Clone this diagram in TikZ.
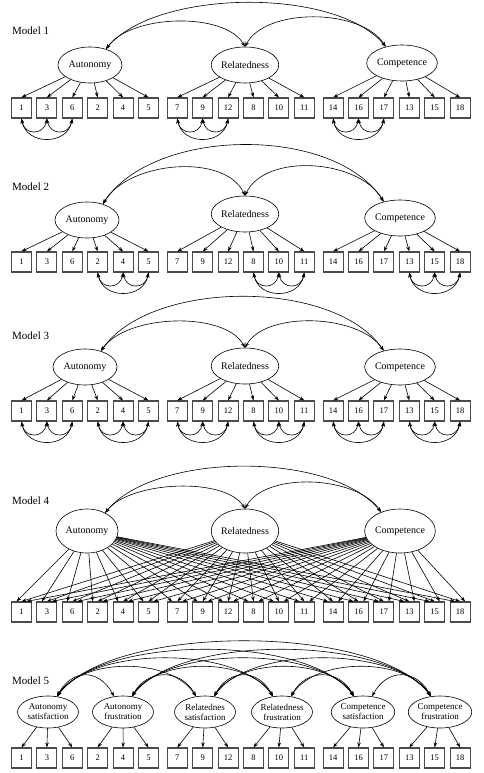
\documentclass[tikz,border=0pt]{standalone}
\usepackage{fontspec}
\setmainfont{Liberation Serif}
\usetikzlibrary{shapes.geometric,arrows.meta,calc}
\tikzset{
  box/.style={draw=black!70, line width=1.1pt, fill=white,
    minimum width=20pt, minimum height=20pt, inner sep=0pt, font=\fontsize{8.5}{9}\selectfont},
  lat/.style={draw, ellipse, line width=0.6pt, minimum width=64pt, minimum height=36pt,
    inner sep=0pt, font=\fontsize{10}{11}\selectfont},
  lat4/.style={lat, minimum width=62pt, minimum height=44pt},
  lat5/.style={lat, minimum width=61pt, minimum height=32pt, align=center,
    font=\fontsize{9}{10}\selectfont},
  arr/.style={-{Stealth[length=5pt,width=3.5pt]}, line width=0.6pt},
  cov/.style={{Stealth[length=5pt,width=3.5pt]}-{Stealth[length=5pt,width=3.5pt]}, line width=0.6pt},
  mlab/.style={anchor=west, inner sep=0pt, font=\fontsize{11}{12}\selectfont}
}
\begin{document}
\begin{tikzpicture}[x=1pt,y=1pt]
\useasboundingbox (0,0) rectangle (484,-773);
\fill[white] (0,0) rectangle (484,-773);

% model labels
\node[mlab] (L1) at (12,-31) {Model 1};
\node[mlab] (L2) at (12,-187) {Model 2};
\node[mlab] (L3) at (12,-336) {Model 3};
\node[mlab] (L4) at (12,-501) {Model 4};
\node[mlab] (L5) at (12,-681) {Model 5};

% item boxes
\foreach \m/\yy in {1/108,2/262,3/411,4/612,5/758}{
  \foreach \lab [count=\i] in {1,3,6,2,4,5,7,9,12,8,10,11,14,16,17,13,15,18}{
    \pgfmathsetmacro\xx{21.5+25.4*mod(\i-1,6)+155.8*floor((\i-1)/6)}
    \node[box] (m\m-\i) at (\xx,-\yy) {\lab};
  }
}

% latent factors
\node[lat] (A1) at (90,-65) {Autonomy};
\node[lat] (R1) at (245,-65) {Relatedness};
\node[lat] (C1) at (402,-63) {Competence};
\node[lat] (A2) at (87,-220) {Autonomy};
\node[lat] (R2) at (245,-214) {Relatedness};
\node[lat] (C2) at (400,-218) {Competence};
\node[lat] (A3) at (85,-367) {Autonomy};
\node[lat] (R3) at (245,-366) {Relatedness};
\node[lat] (C3) at (400,-367) {Competence};
\node[lat4] (A4) at (87,-531) {Autonomy};
\node[lat4] (R4) at (245,-531) {Relatedness};
\node[lat4] (C4) at (400,-531) {Competence};
\node[lat5] (AS) at (48,-712) {Autonomy\\satisfaction};
\node[lat5] (AF) at (123,-712) {Autonomy\\frustration};
\node[lat5] (RS) at (205,-712) {Relatednes\\satisfaction};
\node[lat5] (RF) at (282,-712) {Relatedness\\frustration};
\node[lat5] (CS) at (363,-712) {Competence\\satisfaction};
\node[lat5] (CF) at (440,-712) {Competence\\frustration};

% loadings, models 1-3
\foreach \m in {1,2,3}{
  \foreach \i in {1,...,6} \draw[arr] (A\m) -- (m\m-\i.north);
  \foreach \i in {7,...,12} \draw[arr] (R\m) -- (m\m-\i.north);
  \foreach \i in {13,...,18} \draw[arr] (C\m) -- (m\m-\i.north);
}
% loadings, model 4
\foreach \f/\o in {A4/-5,R4/0,C4/5}{
  \foreach \i in {1,...,18} \draw[arr] (\f) -- ([xshift=\o pt]m4-\i.north);
}
% loadings, model 5
\foreach \f/\s in {AS/1,AF/4,RS/7,RF/10,CS/13,CF/16}{
  \pgfmathtruncatemacro\ta{\s+1}
  \pgfmathtruncatemacro\tb{\s+2}
  \draw[arr] (\f) -- (m5-\s.north);
  \draw[arr] (\f) -- (m5-\ta.north);
  \draw[arr] (\f) -- (m5-\tb.north);
}

% factor covariances
\draw[cov] (A1.45) .. controls +(25,35) and +(-20,35) .. (R1.90);
\draw[cov] (A1.45) .. controls +(50,60) and +(-50,60) .. (C1.135);
\draw[cov] (R1.90) .. controls +(20,39) and +(-25,39) .. (C1.135);

\draw[cov] (A2.45) .. controls +(25,43) and +(-20,43) .. (R2.90);
\draw[cov] (A2.45) .. controls +(50,77) and +(-50,77) .. (C2.135);
\draw[cov] (R2.90) .. controls +(20,43) and +(-25,43) .. (C2.135);

\draw[cov] (A3.45) .. controls +(25,37) and +(-20,37) .. (R3.90);
\draw[cov] (A3.45) .. controls +(50,72) and +(-50,72) .. (C3.135);
\draw[cov] (R3.90) .. controls +(20,37) and +(-25,37) .. (C3.135);

\draw[cov] (A4.45) .. controls +(25,32) and +(-20,32) .. (R4.90);
\draw[cov] (A4.45) .. controls +(50,61) and +(-50,61) .. (C4.135);
\draw[cov] (R4.90) .. controls +(20,37) and +(-25,37) .. (C4.135);

\foreach \p/\q/\k in {AS/AF/1,AS/RS/2,AS/RF/3,AS/CS/4,AS/CF/5,AF/RS/1,AF/RF/2,AF/CS/3,AF/CF/4,RS/RF/1,RS/CS/2,RS/CF/3,RF/CS/1,RF/CF/2,CS/CF/1}{
  \pgfmathsetmacro\cv{(21+8.5*(\k-1))/0.75}
  \pgfmathsetmacro\ch{15+10*(\k-1)}
  \draw[cov] (\p.60) .. controls +(\ch,\cv) and +(-\ch,\cv) .. (\q.120);
}

% residual covariances
\foreach \m/\a in {1/1,1/7,1/13,2/4,2/10,2/16,3/1,3/4,3/7,3/10,3/13,3/16}{
  \pgfmathtruncatemacro\bb{\a+1}
  \pgfmathtruncatemacro\cc{\a+2}
  \draw[cov] (m\m-\a.south) .. controls +(3,-17) and +(-3,-17) .. (m\m-\bb.south);
  \draw[cov] (m\m-\bb.south) .. controls +(3,-17) and +(-3,-17) .. (m\m-\cc.south);
  \draw[cov] (m\m-\a.south) .. controls +(5,-27) and +(-5,-27) .. (m\m-\cc.south);
}
\end{tikzpicture}
\end{document}
